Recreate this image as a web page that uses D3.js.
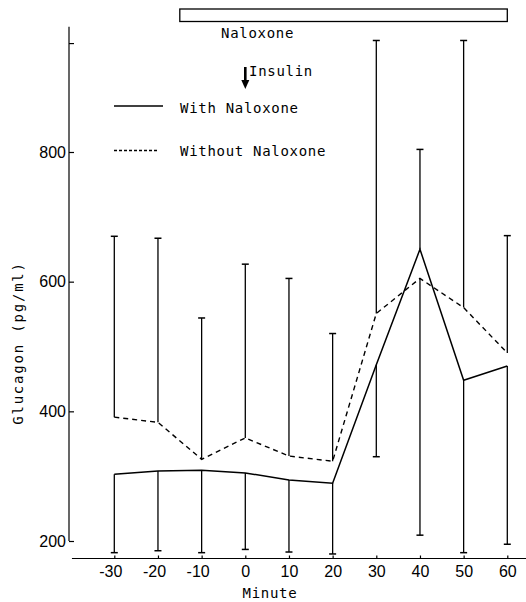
<!DOCTYPE html>
<html>
<head>
<meta charset="utf-8">
<script src="https://cdn.jsdelivr.net/npm/d3@7"></script>
<style>
  html, body { margin: 0; padding: 0; background: #fff; }
  svg { display: block; }
  .mono { font-family: "DejaVu Sans Mono", monospace; font-size: 14px; letter-spacing: 0.7px; fill: #000; }
  .tick text { font-family: "Liberation Sans", Arial, sans-serif; font-size: 16px; fill: #000; }
</style>
</head>
<body>
<svg id="chart" width="526" height="602"></svg>
<script>
// ---- data ----
const minutes = [-30, -20, -10, 0, 10, 20, 30, 40, 50, 60];
const withNaloxone = [303, 308, 309, 305, 294, 289, 472, 650, 448, 470];
const withoutNaloxone = [391, 383, 326, 359, 331, 323, 551, 605, 560, 490];
const errUpper = [670, 667, 544, 627, 605, 520, 972, 804, 972, 671];
const errLower = [182, 185, 182, 187, 183, 180, 330, 209, 182, 195];
const yTicks = [200, 400, 600, 800, 968];
const yTickLabels = ["200", "400", "600", "800", ""];
const xTickLabels = ["-30", "-20", "-10", "0", "10", "20", "30", "40", "50", "60"];
const naloxoneStart = -15, naloxoneEnd = 60;
const insulinAt = 0;
const yAxisTop = 993;

const svg = d3.select("#chart");
const x = d3.scaleLinear().domain([-30, 60]).range([114.3, 507.3]);
const y = d3.scaleLinear().domain([200, 800]).range([541, 152]);

// ---- axes ----
const yAxis = d3.axisLeft(y).tickValues(yTicks)
  .tickFormat((d, i) => yTickLabels[i]).tickSizeInner(-5).tickSizeOuter(0).tickPadding(3);
const gy = svg.append("g").attr("transform", "translate(69,0)").call(yAxis);
gy.select(".domain").remove();
gy.selectAll(".tick line").attr("stroke", "#000").attr("stroke-width", 1.2);
gy.append("line").attr("x1", 0).attr("x2", 0).attr("y1", y(200)).attr("y2", y(yAxisTop))
  .attr("stroke", "#000").attr("stroke-width", 1.2);

const xAxis = d3.axisBottom(x).tickValues(minutes)
  .tickFormat((d, i) => xTickLabels[i]).tickSizeInner(-3).tickSizeOuter(0).tickPadding(7);
const gx = svg.append("g").attr("transform", "translate(0,558.5)").call(xAxis);
gx.select(".domain").remove();
gx.selectAll(".tick line").attr("stroke", "#000").attr("stroke-width", 1.2);
gx.selectAll(".tick text").attr("dx", (d) => d < 0 ? -4 : 0);
gx.append("line").attr("x1", x(-39.7)).attr("x2", x(64.3)).attr("y1", 0).attr("y2", 0)
  .attr("stroke", "#000").attr("stroke-width", 1.2);

// ---- error bars ----
const capW = 3.5;
const g = svg.append("g").attr("stroke", "#000").attr("fill", "none");
minutes.forEach((m, i) => {
  const hi = Math.max(withNaloxone[i], withoutNaloxone[i]);
  const lo = Math.min(withNaloxone[i], withoutNaloxone[i]);
  const xx = x(m);
  g.append("line").attr("x1", xx).attr("x2", xx).attr("y1", y(hi)).attr("y2", y(errUpper[i])).attr("stroke-width", 1.3);
  g.append("line").attr("x1", xx - capW).attr("x2", xx + capW).attr("y1", y(errUpper[i])).attr("y2", y(errUpper[i])).attr("stroke-width", 1.5);
  g.append("line").attr("x1", xx).attr("x2", xx).attr("y1", y(lo)).attr("y2", y(errLower[i])).attr("stroke-width", 1.3);
  g.append("line").attr("x1", xx - capW).attr("x2", xx + capW).attr("y1", y(errLower[i])).attr("y2", y(errLower[i])).attr("stroke-width", 1.5);
});

// ---- lines ----
const line = d3.line().x((d) => x(d[0])).y((d) => y(d[1]));
svg.append("path").datum(minutes.map((m, i) => [m, withNaloxone[i]]))
  .attr("d", line).attr("fill", "none").attr("stroke", "#000").attr("stroke-width", 1.5);
svg.append("path").datum(minutes.map((m, i) => [m, withoutNaloxone[i]]))
  .attr("d", line).attr("fill", "none").attr("stroke", "#000").attr("stroke-width", 1.4)
  .attr("stroke-dasharray", "5,4");

// ---- naloxone bar ----
svg.append("rect").attr("x", x(naloxoneStart)).attr("y", 9)
  .attr("width", x(naloxoneEnd) - x(naloxoneStart)).attr("height", 12.5)
  .attr("fill", "#fff").attr("stroke", "#000").attr("stroke-width", 1.3);
svg.append("text").attr("class", "mono").attr("x", 221).attr("y", 38).text("Naloxone");

// ---- insulin arrow ----
const ax = x(insulinAt);
svg.append("line").attr("x1", ax).attr("x2", ax).attr("y1", 67).attr("y2", 82)
  .attr("stroke", "#000").attr("stroke-width", 2.6);
svg.append("path").attr("d", `M${ax - 4},${80} L${ax + 4},${80} L${ax},${89} Z`).attr("fill", "#000");
svg.append("text").attr("class", "mono").attr("x", 249).attr("y", 76).text("Insulin");

// ---- legend ----
svg.append("line").attr("x1", 114).attr("x2", 163).attr("y1", 106).attr("y2", 106)
  .attr("stroke", "#000").attr("stroke-width", 1.5);
svg.append("text").attr("class", "mono").attr("x", 180).attr("y", 113).text("With Naloxone");
svg.append("line").attr("x1", 114).attr("x2", 158).attr("y1", 150.5).attr("y2", 150.5)
  .attr("stroke", "#000").attr("stroke-width", 1.3).attr("stroke-dasharray", "3,2");
svg.append("text").attr("class", "mono").attr("x", 180).attr("y", 155.5).text("Without Naloxone");

// ---- axis titles ----
svg.append("text").attr("class", "mono").attr("x", 270).attr("y", 598)
  .attr("text-anchor", "middle").text("Minute");
svg.append("text").attr("class", "mono").attr("text-anchor", "middle")
  .style("letter-spacing", "1.8px")
  .attr("transform", "translate(23,343) rotate(-90)").text("Glucagon (pg/ml)");
</script>
</body>
</html>
